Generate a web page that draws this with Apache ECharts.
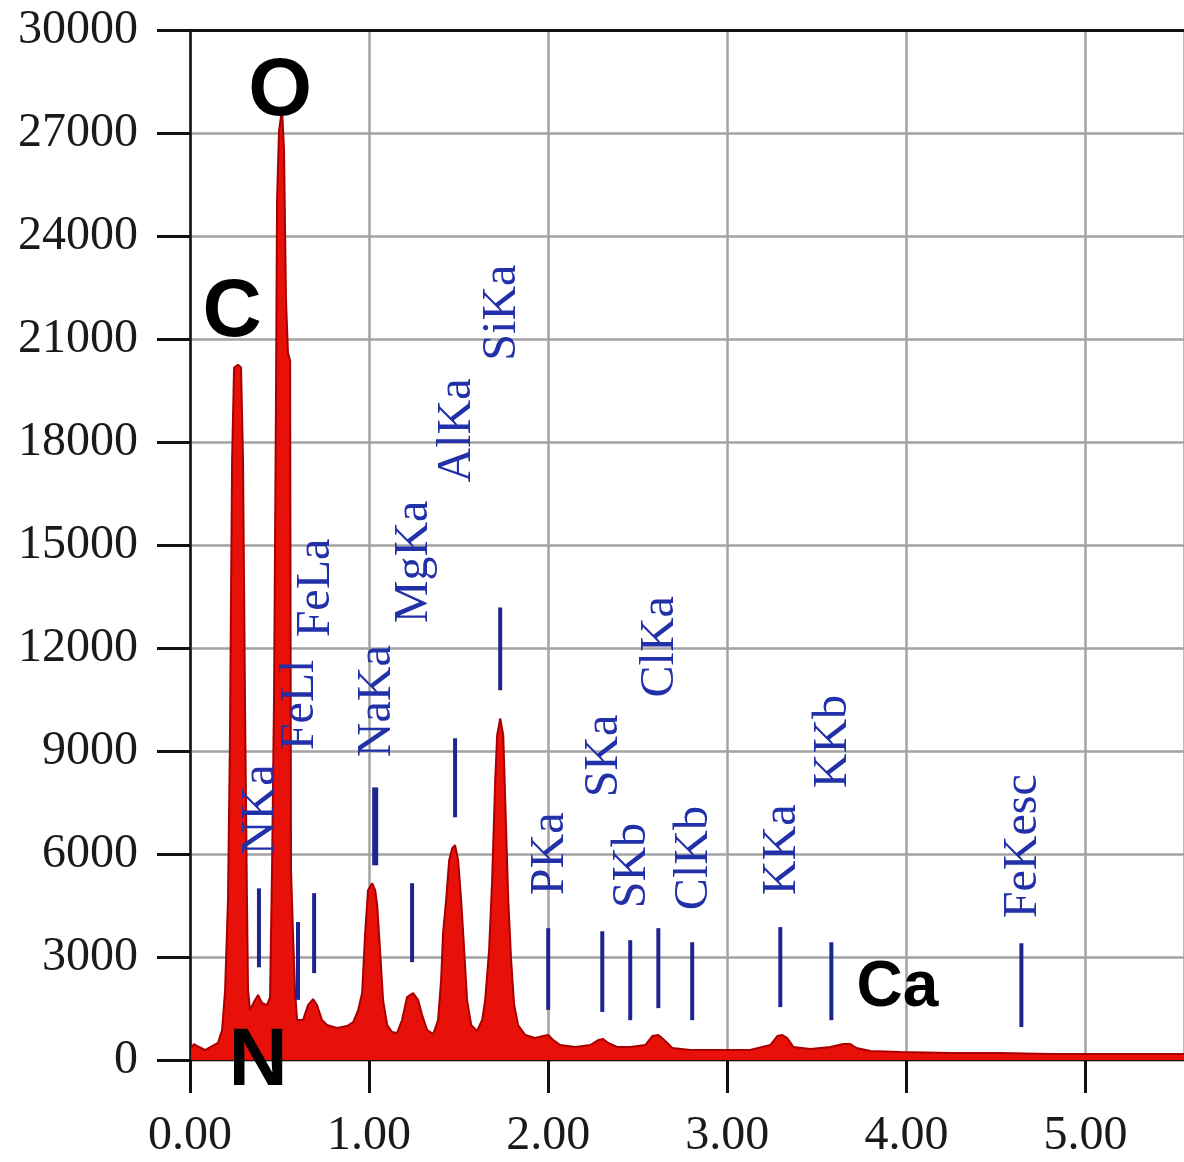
<!DOCTYPE html>
<html>
<head>
<meta charset="utf-8">
<script src="https://cdn.jsdelivr.net/npm/echarts@6/dist/echarts.min.js"></script>
<style>
  html, body { margin: 0; padding: 0; background: #fff; }
  #chart { width: 1184px; height: 1162px; }
</style>
</head>
<body>
<div id="chart"></div>
<script>
// spectrum (keV / counts)
const energy = [0.006, 0.022, 0.050, 0.084, 0.123, 0.156, 0.179, 0.196, 0.212, 0.223, 0.235, 0.246, 0.268, 0.285, 0.296, 0.307, 0.318, 0.324, 0.335, 0.363, 0.380, 0.402, 0.430, 0.447, 0.458, 0.469, 0.480, 0.486, 0.497, 0.514, 0.525, 0.536, 0.547, 0.559, 0.564, 0.575, 0.587, 0.598, 0.631, 0.659, 0.687, 0.709, 0.737, 0.765, 0.821, 0.877, 0.911, 0.939, 0.961, 0.978, 0.994, 1.017, 1.034, 1.045, 1.061, 1.078, 1.101, 1.128, 1.156, 1.184, 1.212, 1.246, 1.274, 1.296, 1.324, 1.358, 1.385, 1.402, 1.413, 1.430, 1.447, 1.464, 1.480, 1.497, 1.514, 1.531, 1.547, 1.570, 1.603, 1.631, 1.648, 1.670, 1.687, 1.704, 1.715, 1.732, 1.749, 1.760, 1.777, 1.793, 1.810, 1.832, 1.872, 1.927, 1.972, 2.000, 2.028, 2.067, 2.151, 2.235, 2.279, 2.307, 2.335, 2.385, 2.458, 2.542, 2.581, 2.615, 2.648, 2.693, 2.793, 2.961, 3.128, 3.240, 3.279, 3.307, 3.335, 3.369, 3.464, 3.575, 3.648, 3.687, 3.721, 3.799, 3.966, 4.246, 4.525, 4.804, 5.084, 5.363, 5.553];
const counts = [349, 466, 378, 291, 407, 495, 873, 2037, 4656, 9312, 17460, 20170, 20250, 20170, 17460, 10480, 4656, 2037, 1455, 1746, 1892, 1659, 1600, 1833, 5530, 10480, 19200, 25030, 27060, 27700, 26480, 22120, 20600, 20370, 5530, 3696, 1950, 1164, 1164, 1600, 1775, 1600, 1164, 1019, 931, 989, 1106, 1455, 1950, 3696, 4947, 5150, 4947, 4510, 3201, 1746, 1019, 815, 786, 1164, 1833, 1950, 1746, 1310, 873, 757, 1164, 2328, 3696, 4656, 5820, 6170, 6260, 5820, 4656, 3201, 1746, 1019, 844, 1164, 1746, 3201, 5240, 8150, 9460, 9950, 9460, 7570, 4656, 2910, 1600, 1019, 728, 640, 698, 728, 582, 437, 378, 437, 582, 611, 495, 378, 378, 437, 698, 728, 582, 349, 291, 291, 291, 437, 698, 728, 640, 378, 320, 378, 466, 466, 349, 262, 233, 204, 204, 175, 175, 175, 175];

// element line markers
const lineNames = ['NKa', 'FeLl', 'FeLa', 'NaKa', 'MgKa', 'AlKa', 'SiKa', 'PKa', 'SKa', 'SKb', 'ClKa', 'ClKb', 'KKa', 'KKb', 'FeKesc'];
const lineEnergy = [0.385, 0.603, 0.693, 1.034, 1.240, 1.480, 1.732, 2.000, 2.302, 2.458, 2.615, 2.804, 3.296, 3.581, 4.642];
const lineLow = [2700, 1750, 2530, 5670, 2850, 7070, 10770, 1460, 1400, 1160, 1510, 1160, 1540, 1160, 960];
const lineHigh = [5000, 4020, 4860, 7940, 5150, 9370, 13180, 3840, 3750, 3490, 3840, 3430, 3870, 3430, 3400];
const labelBase = [5965, 9020, 12310, 8820, 12720, 16820, 20370, 4800, 7650, 4420, 10560, 4365, 4800, 7915, 4130];

// big element tags
const tagNames = ['O', 'C', 'N', 'Ca'];
const tagEnergy = [0.503, 0.235, 0.380, 3.950];
const tagCounts = [28170, 21740, -60, 2095];

const xTicks = [0, 1, 2, 3, 4, 5];

const chart = echarts.init(document.getElementById('chart'));

const spectrum = energy.map((e, i) => [e, counts[i]]);
const markers = lineEnergy.map((e, i) => [e, lineLow[i], lineHigh[i], labelBase[i]]);
const tags = tagNames.map((n, i) => [tagEnergy[i], tagCounts[i]]);

const option = {
  backgroundColor: '#fff',
  animation: false,
  grid: { left: 190, right: 0, top: 30, bottom: 102, containLabel: false },
  xAxis: [
    {
      type: 'value',
      min: 0,
      max: 5.55,
      interval: 1,
      axisLine: { show: true, lineStyle: { color: '#111', width: 2 } },
      axisTick: { show: true, length: 33, lineStyle: { color: '#111', width: 3 } },
      axisLabel: {
        margin: 52,
        showMaxLabel: false,
        color: '#1a1a1a',
        fontFamily: 'Liberation Serif',
        fontSize: 48,
        formatter: (v) => (xTicks.indexOf(Math.round(v)) >= 0 ? v.toFixed(2) : '')
      },
      splitLine: { show: true, lineStyle: { color: '#a3a3a3', width: 2.5 } }
    },
    {
      type: 'value',
      position: 'top',
      min: 0,
      max: 5.55,
      axisLine: { show: true, lineStyle: { color: '#111', width: 3 } },
      axisTick: { show: false },
      axisLabel: { show: false },
      splitLine: { show: false }
    }
  ],
  yAxis: {
    type: 'value',
    min: 0,
    max: 30000,
    interval: 3000,
    axisLine: { show: true, lineStyle: { color: '#111', width: 2.5 } },
    axisTick: { show: true, length: 33, lineStyle: { color: '#111', width: 3 } },
    axisLabel: {
      margin: 52,
      color: '#1a1a1a',
      fontFamily: 'Liberation Serif',
      fontSize: 48,
      formatter: (v) => String(v)
    },
    splitLine: { show: true, lineStyle: { color: '#a3a3a3', width: 2.5 } }
  },
  series: [
    {
      type: 'line',
      data: spectrum,
      showSymbol: false,
      smooth: false,
      z: 3,
      lineStyle: { color: '#a80000', width: 2 },
      areaStyle: { color: '#e8110a', opacity: 1 }
    },
    {
      type: 'custom',
      z: 4,
      clip: false,
      data: markers,
      renderItem: (params, api) => {
        const x = api.value(0);
        const p1 = api.coord([x, api.value(1)]);
        const p2 = api.coord([x, api.value(2)]);
        const p3 = api.coord([x, api.value(3)]);
        const name = lineNames[params.dataIndex];
        return {
          type: 'group',
          children: [
            {
              type: 'line',
              shape: { x1: p1[0], y1: p1[1], x2: p2[0], y2: p2[1] },
              style: { stroke: '#1d2690', lineWidth: name === 'NaKa' ? 6 : 4 }
            },
            {
              type: 'text',
              x: p3[0] + 2,
              y: p3[1],
              rotation: Math.PI / 2,
              style: {
                text: name,
                fill: '#2231a8',
                font: '48px "Liberation Serif"',
                align: 'left',
                verticalAlign: 'middle'
              }
            }
          ]
        };
      }
    },
    {
      type: 'custom',
      z: 5,
      clip: false,
      data: tags,
      renderItem: (params, api) => {
        const p = api.coord([api.value(0), api.value(1)]);
        const name = tagNames[params.dataIndex];
        return {
          type: 'text',
          x: p[0],
          y: p[1],
          style: {
            text: name,
            fill: '#000',
            font: 'bold ' + (name === 'Ca' ? 64 : 82) + 'px "Liberation Sans"',
            align: 'center',
            verticalAlign: 'middle'
          }
        };
      }
    }
  ]
};

chart.setOption(option);
</script>
</body>
</html>
